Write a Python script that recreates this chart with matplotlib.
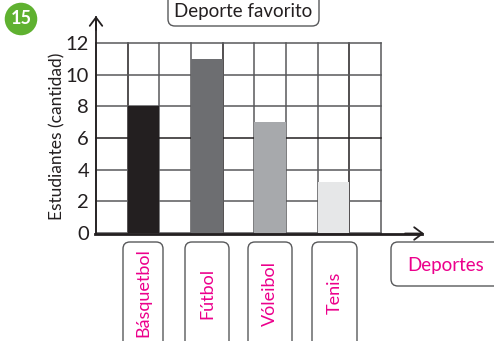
import matplotlib.pyplot as plt
from matplotlib.patches import FancyBboxPatch

# data
deportes = ["Básquetbol", "Fútbol", "Vóleibol", "Tenis"]
estudiantes = [8, 11, 7, 3.2]
colores = ["#231f20", "#6d6e71", "#a7a9ac", "#e6e7e8"]
y_ticks = [0, 2, 4, 6, 8, 10, 12]

W, H = 494, 341
MAGENTA = "#ec008c"
INK = "#231f20"

plt.rcParams['font.family'] = ['Lato', 'DejaVu Sans']

fig = plt.figure(figsize=(W / 100, H / 100), dpi=100)


def fx(px):
    return px / W


def fy(py):
    # pixel measured from the top
    return 1 - py / H


ax = fig.add_axes([fx(96), fy(233), fx(381) - fx(96), fy(43) - fy(233)])
ax.set_xlim(0, 9)
ax.set_ylim(0, 12)

# grid: 9 columns, lines every 2 students
for x in range(10):
    c = INK if x in (1, 4, 8) else "#58595b"
    ax.axvline(x, color=c, lw=1.1, zorder=1, clip_on=False)
for y in y_ticks:
    c = INK if y in (6,) else "#58595b"
    ax.axhline(y, color=c, lw=1.1, zorder=1, clip_on=False)

# bars sit in every other column
pos = [2 * i + 1.5 for i in range(len(deportes))]
ax.bar(pos, estudiantes, width=1.0, color=colores, zorder=2)

for s in ax.spines.values():
    s.set_visible(False)
ax.set_xticks([])
ax.set_yticks(y_ticks)
ax.set_yticklabels([str(v) for v in y_ticks], fontsize=14.5, color=INK)
ax.tick_params(axis="y", length=0, pad=5)

# axes with open arrow heads
arrow = dict(arrowstyle="->,head_length=0.6,head_width=0.45", color=INK, lw=1.3,
             shrinkA=0, shrinkB=0)
fig.add_artist(plt.Line2D([fx(96), fx(96)], [fy(234), fy(17)], color=INK, lw=1.3))
ax.annotate("", xy=(fx(96), fy(16)), xytext=(fx(96), fy(30)),
            xycoords=fig.transFigure, textcoords=fig.transFigure, arrowprops=arrow)
fig.add_artist(plt.Line2D([fx(95), fx(422)], [fy(233.5), fy(233.5)], color=INK, lw=2))
ax.annotate("", xy=(fx(424), fy(233.5)), xytext=(fx(405), fy(233.5)),
            xycoords=fig.transFigure, textcoords=fig.transFigure, arrowprops=arrow)

fig.text(fx(57), fy(136), "Estudiantes (cantidad)", rotation=90, ha="center",
         va="center", fontsize=12.5, color=INK)

# exercise number
fig.text(fx(21), fy(19), "15", ha="center", va="center", fontsize=13,
         fontweight="bold", color="white",
         bbox=dict(boxstyle="circle,pad=0.32", fc="#5fb130", ec="none"))


def caja(x0, y0, x1, y1):
    p = FancyBboxPatch((fx(x0), fy(y1)), fx(x1) - fx(x0), fy(y0) - fy(y1),
                       boxstyle="round,pad=0,rounding_size=0.014",
                       transform=fig.transFigure, fc="white", ec="#58595b",
                       lw=1.0, mutation_aspect=W / H)
    fig.add_artist(p)


# title box
caja(168, -20, 319, 26)
fig.text(fx(243.5), fy(12), "Deporte favorito", ha="center", va="center",
         fontsize=13.5, color=INK)

# category label boxes
cajas_x = [(123, 163), (185, 229), (248, 292), (312, 357)]
for (a, b), nombre in zip(cajas_x, deportes):
    caja(a, 242, b, 380)
    fig.text(fx((a + b) / 2), fy(293), nombre, rotation=90, ha="center",
             va="center", fontsize=13, color=MAGENTA)

caja(391, 242, 540, 286)
fig.text(fx(446), fy(265), "Deportes", ha="center", va="center",
         fontsize=13.5, color=MAGENTA)

fig.savefig("out.png", dpi=100)
